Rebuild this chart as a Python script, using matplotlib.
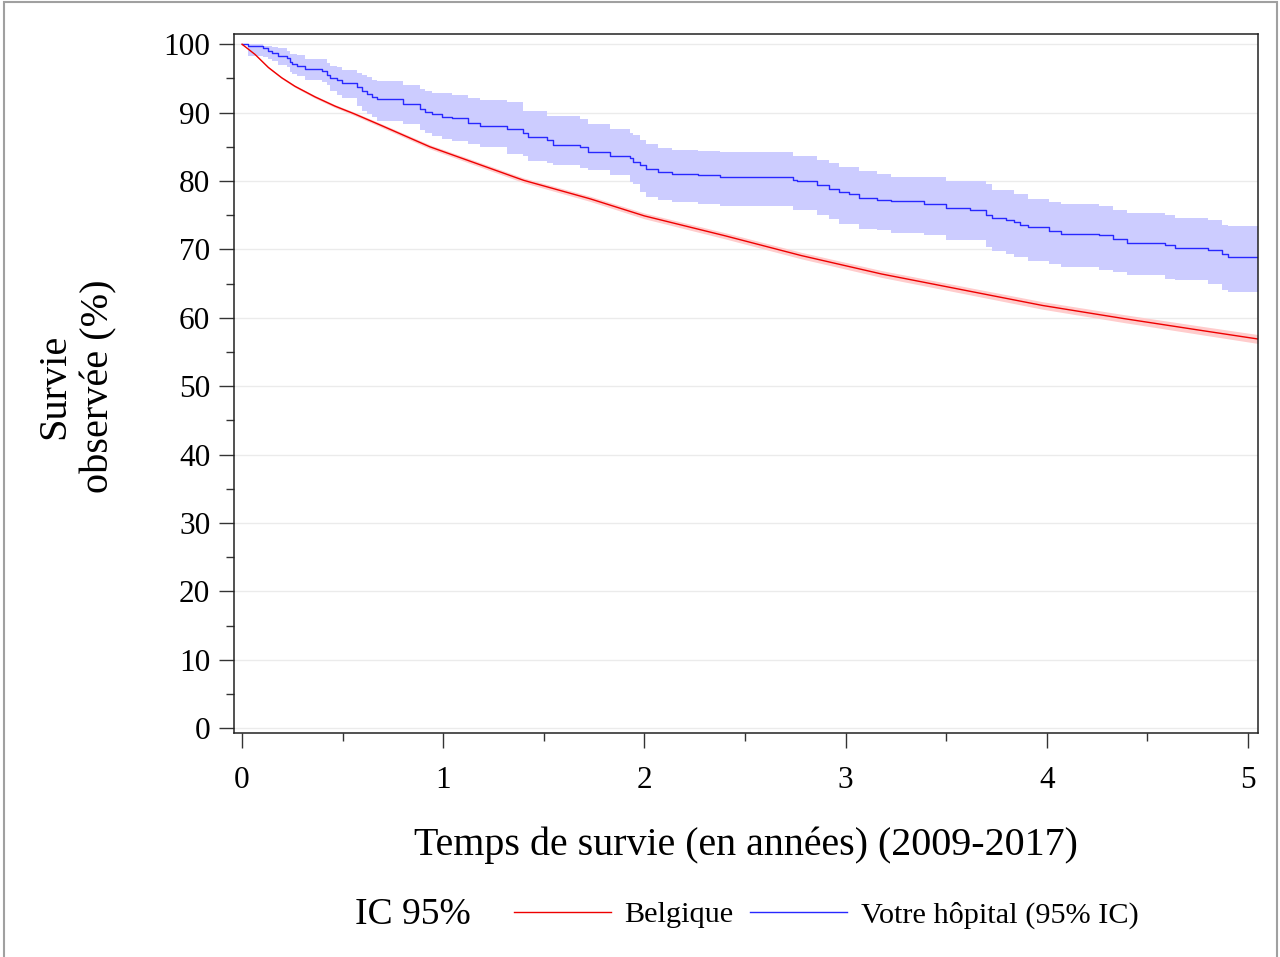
import matplotlib
matplotlib.use('Agg')
import matplotlib.pyplot as plt
from matplotlib.lines import Line2D
from matplotlib.patches import Rectangle
from matplotlib.ticker import MultipleLocator

plt.rcParams['font.family'] = ['Liberation Serif', 'DejaVu Serif']

# Belgique (national curve with narrow 95% band)
bel_t = [0, 0.065, 0.131, 0.197, 0.263, 0.363, 0.462, 0.56, 0.694, 0.934, 1.167,
         1.40, 1.73, 2.0, 2.4, 2.78, 3.18, 3.58, 3.98, 4.38, 4.78, 5.05]
bel_s = [100, 98.5, 96.6, 95.1, 93.85, 92.3, 90.95, 89.8, 88.1, 85.0, 82.55,
         80.1, 77.4, 74.9, 72.0, 69.1, 66.4, 64.1, 61.8, 59.9, 58.1, 56.9]
bel_lo = [100, 98.43, 96.47, 94.95, 93.68, 92.1, 90.73, 89.56, 87.84, 84.7, 82.22,
          79.75, 77.02, 74.48, 71.55, 68.62, 65.9, 63.58, 61.25, 59.32, 57.48, 56.25]
bel_hi = [100, 98.57, 96.73, 95.25, 94.02, 92.5, 91.17, 90.04, 88.36, 85.3, 82.88,
          80.45, 77.78, 75.32, 72.45, 69.58, 66.9, 64.62, 62.35, 60.48, 58.72, 57.55]

# Votre hôpital (Kaplan-Meier steps with 95% CI)
hosp_t = [0, 0.03, 0.106, 0.131, 0.147, 0.181, 0.222, 0.239, 0.247, 0.272,
          0.313, 0.396, 0.421, 0.437, 0.47, 0.495, 0.57, 0.594, 0.619, 0.644,
          0.669, 0.802, 0.885, 0.909, 0.943, 0.992, 1.042, 1.125, 1.183, 1.316,
          1.398, 1.423, 1.514, 1.548, 1.68, 1.721, 1.829, 1.928, 1.945, 1.978,
          2.008, 2.068, 2.138, 2.268, 2.378, 2.738, 2.758, 2.858, 2.918, 2.968,
          3.018, 3.068, 3.158, 3.228, 3.389, 3.499, 3.619, 3.699, 3.729, 3.799,
          3.839, 3.869, 3.909, 4.009, 4.069, 4.259, 4.329, 4.399, 4.589, 4.639,
          4.8, 4.87, 4.9, 5.05]
hosp_s = [100, 99.76, 99.41, 99.07, 98.78, 98.29, 97.95, 97.37, 97.07, 96.83,
          96.39, 96.15, 95.51, 95.02, 94.78, 94.29, 93.8, 93.17, 92.73, 92.34,
          91.95, 91.27, 90.49, 90.15, 89.8, 89.41, 89.17, 88.54, 88.1, 87.6,
          86.98, 86.49, 86.0, 85.27, 84.93, 84.29, 83.66, 83.32, 82.73, 82.3,
          81.8, 81.32, 81.07, 80.83, 80.59, 80.2, 80.0, 79.46, 78.88, 78.4,
          78.15, 77.51, 77.27, 77.02, 76.68, 76.05, 75.71, 75.1, 74.63, 74.34,
          74.0, 73.61, 73.27, 72.68, 72.29, 72.05, 71.56, 70.98, 70.7, 70.24,
          69.95, 69.37, 68.88, 68.88]
hosp_lo = [100, 98.3, 98.2, 97.9, 97.6, 97.0, 96.6, 96.0, 95.6, 95.3,
           94.8, 94.5, 94.0, 93.1, 92.6, 92.1, 91.0, 90.2, 89.8, 89.4,
           88.8, 88.3, 87.5, 87.0, 86.6, 86.2, 85.8, 85.4, 85.0, 84.0,
           83.6, 83.0, 82.6, 82.3, 81.9, 81.6, 80.9, 79.9, 79.5, 78.39,
           77.66, 77.17, 76.93, 76.59, 76.29, 75.71, 75.71, 74.98, 74.49, 73.76,
           73.76, 73.02, 72.78, 72.39, 72.05, 71.41, 71.41, 70.34, 69.76, 69.37,
           68.88, 68.88, 68.29, 67.9, 67.41, 67.02, 66.68, 66.2, 65.71, 65.46,
           64.88, 64.1, 63.76, 63.76]
hosp_hi = [100, 100, 99.76, 99.7, 99.6, 99.4, 99.07, 98.6, 98.6, 98.4,
           97.8, 97.8, 97.2, 96.8, 96.6, 96.2, 95.8, 95.5, 95.2, 94.8,
           94.6, 94.0, 93.4, 93.2, 92.9, 92.9, 92.6, 92.2, 91.85, 91.6,
           90.2, 90.2, 89.5, 89.5, 89.0, 88.4, 87.6, 87.0, 86.8, 86.05,
           85.37, 84.88, 84.59, 84.39, 84.2, 83.61, 83.61, 83.12, 82.63, 82.05,
           82.05, 81.46, 81.07, 80.59, 80.59, 80.0, 80.0, 79.51, 78.63, 78.63,
           78.15, 78.15, 77.41, 76.93, 76.59, 76.29, 75.8, 75.32, 74.98, 74.63,
           74.34, 73.51, 73.41, 73.41]

fig = plt.figure(figsize=(12.8, 9.57), dpi=100)
ax = fig.add_axes([0.1828, 0.2341, 0.8, 0.7304])

# Grid under everything
ax.set_axisbelow(True)
ax.yaxis.grid(True, color='#ebebeb', lw=1)

ax.fill_between(hosp_t, hosp_lo, hosp_hi, step='post', color='#ccccff', lw=0)
ax.fill_between(bel_t, bel_lo, bel_hi, color='#ffcccc', lw=0)
ax.step(hosp_t, hosp_s, where='post', color='#2828ff', lw=1.0)
ax.plot(bel_t, bel_s, color='#ee0000', lw=1.0)

ax.set_xlim(-0.04, 5.05)
ax.set_ylim(-0.7, 101.5)
ax.xaxis.set_major_locator(MultipleLocator(1))
ax.xaxis.set_minor_locator(MultipleLocator(0.5))
ax.yaxis.set_major_locator(MultipleLocator(10))
ax.yaxis.set_minor_locator(MultipleLocator(5))
ax.tick_params(which='major', direction='out', length=11, width=1, labelsize=22.5,
               colors='#333333', labelcolor='black')
ax.tick_params(which='minor', direction='out', length=5.5, width=1, colors='#333333')
ax.tick_params(axis='x', which='major', pad=13)
ax.tick_params(axis='y', which='major', pad=6)
for s in ax.spines.values():
    s.set_linewidth(1.1)
    s.set_color('#222222')

# Axis titles
fig.text(746 / 1280, 1 - 845 / 957, 'Temps de survie (en années) (2009-2017)',
         ha='center', va='center', fontsize=28.8)
fig.text(77 / 1280, 1 - 386 / 957, 'Survie\nobservée (%)', rotation=90,
         ha='center', va='center', ma='center', fontsize=29, linespacing=1.27)

# Legend row
leg_y = 1 - 915 / 957
fig.text(355 / 1280, leg_y, 'IC 95%', ha='left', va='center', fontsize=27)
handles = [Line2D([], [], color='#ee0000', lw=1.0),
           Line2D([], [], color='#2828ff', lw=1.0)]
fig.legend(handles, ['Belgique', 'Votre hôpital (95% IC)'], loc='center left',
           bbox_to_anchor=(514 / 1280, leg_y), ncol=2, frameon=False, fontsize=21.8,
           handlelength=3.2, handletextpad=0.45, columnspacing=0.55,
           borderpad=0, borderaxespad=0)

# Outer frame of the image
fig.add_artist(Rectangle((0.003, -0.01), 0.995, 1.008, transform=fig.transFigure,
                         fill=False, ec='#a0a0a0', lw=1.5))

fig.savefig('out.png', dpi=100)
plt.close(fig)
